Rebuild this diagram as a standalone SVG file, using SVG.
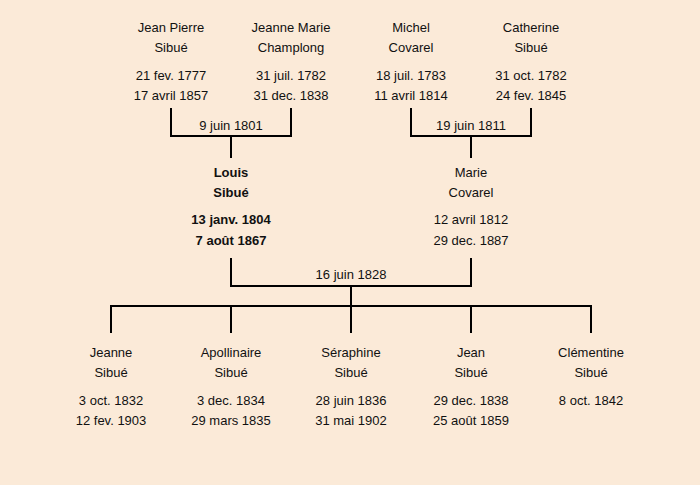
<svg xmlns="http://www.w3.org/2000/svg" width="700" height="485" viewBox="0 0 700 485">
<style>
text{font-family:"Liberation Sans","DejaVu Sans",sans-serif;font-size:13px;fill:#111;text-anchor:middle}
.b{font-weight:bold}
.ln{stroke:#000;stroke-width:2;fill:none}
</style>
<rect width="700" height="485" fill="#fbead8"/>
<g id="connectors">
<path class="ln" d="M171,108V136H291V108M231,136V158"/>
<text x="231" y="130">9 juin 1801</text>
<path class="ln" d="M411,108V136H531V108M471,136V158"/>
<text x="471" y="130">19 juin 1811</text>
<path class="ln" d="M231,258V286H471V258M351,286V306"/>
<text x="351" y="279">16 juin 1828</text>
<path class="ln" d="M111,333V306H591V333M231,306V333M351,306V333M471,306V333"/>
</g>
<g id="jean-pierre"><text x="171" y="32">Jean Pierre</text><text x="171" y="52">Sibué</text><text x="171" y="80">21 fev. 1777</text><text x="171" y="100">17 avril 1857</text></g>
<g id="jeanne-marie"><text x="291" y="32">Jeanne Marie</text><text x="291" y="52">Champlong</text><text x="291" y="80">31 juil. 1782</text><text x="291" y="100">31 dec. 1838</text></g>
<g id="michel"><text x="411" y="32">Michel</text><text x="411" y="52">Covarel</text><text x="411" y="80">18 juil. 1783</text><text x="411" y="100">11 avril 1814</text></g>
<g id="catherine"><text x="531" y="32">Catherine</text><text x="531" y="52">Sibué</text><text x="531" y="80">31 oct. 1782</text><text x="531" y="100">24 fev. 1845</text></g>
<g id="louis" class="b"><text class="b" x="231" y="177">Louis</text><text class="b" x="231" y="197">Sibué</text><text class="b" x="231" y="224">13 janv. 1804</text><text class="b" x="231" y="245">7 août 1867</text></g>
<g id="marie"><text x="471" y="177">Marie</text><text x="471" y="197">Covarel</text><text x="471" y="224">12 avril 1812</text><text x="471" y="245">29 dec. 1887</text></g>
<g id="jeanne"><text x="111" y="357">Jeanne</text><text x="111" y="377">Sibué</text><text x="111" y="405">3 oct. 1832</text><text x="111" y="425">12 fev. 1903</text></g>
<g id="apollinaire"><text x="231" y="357">Apollinaire</text><text x="231" y="377">Sibué</text><text x="231" y="405">3 dec. 1834</text><text x="231" y="425">29 mars 1835</text></g>
<g id="seraphine"><text x="351" y="357">Séraphine</text><text x="351" y="377">Sibué</text><text x="351" y="405">28 juin 1836</text><text x="351" y="425">31 mai 1902</text></g>
<g id="jean"><text x="471" y="357">Jean</text><text x="471" y="377">Sibué</text><text x="471" y="405">29 dec. 1838</text><text x="471" y="425">25 août 1859</text></g>
<g id="clementine"><text x="591" y="357">Clémentine</text><text x="591" y="377">Sibué</text><text x="591" y="405">8 oct. 1842</text></g>
</svg>
